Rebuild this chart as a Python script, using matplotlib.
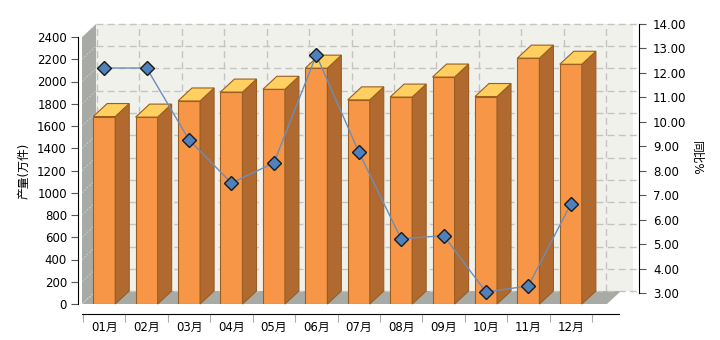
import matplotlib
matplotlib.use('Agg')
import matplotlib.pyplot as plt
from matplotlib.patches import Polygon

months = ['01月', '02月', '03月', '04月', '05月', '06月',
          '07月', '08月', '09月', '10月', '11月', '12月']
output = [1685, 1680, 1825, 1905, 1930, 2120, 1835, 1860, 2040, 1865, 2210, 2155]
yoy = [12.20, 12.20, 9.26, 7.50, 8.32, 12.73, 8.77, 5.21, 5.35, 3.04, 3.29, 6.64]

left_ticks = list(range(0, 2401, 200))
right_ticks = list(range(3, 15))

plt.rcParams['font.family'] = ['DejaVu Sans', 'Noto Sans CJK SC']

W, H = 720, 340
fig = plt.figure(figsize=(7.2, 3.4), dpi=100)
fig.patch.set_facecolor('white')


def box(x0, y0, x1, y1):
    # pixel box (top-left origin) -> figure fraction
    return [x0 / W, 1 - y1 / H, (x1 - x0) / W, (y1 - y0) / H]


ax = fig.add_axes(box(78, 37, 639, 304))
ax2 = fig.add_axes(box(78, 24, 639, 293))
ax.set_facecolor('none')
ax2.set_facecolor('none')

cat_px = 42.42
xmin, xmax = -0.5 - 5 / cat_px, -0.5 + 556 / cat_px
ax.set_xlim(xmin, xmax)
ax2.set_xlim(xmin, xmax)
ax.set_ylim(0, 2400)
ax2.set_ylim(3, 14)

# depth of the fake 3d effect, in data units
dx = 14 / cat_px
dy = 13 / (267 / 2400)

wall_l = -0.5 - 1 / cat_px
wall_r = -0.5 + 550 / cat_px
floor_r = -0.5 + 524 / cat_px

# back wall, side wall, floor
ax.add_patch(Polygon([(wall_l + dx, dy), (wall_r, dy), (wall_r, 2400 + dy), (wall_l + dx, 2400 + dy)],
                     closed=True, fc='#F0F1EB', ec='none', zorder=0, clip_on=False))
ax.add_patch(Polygon([(wall_l, 0), (wall_l, 2400), (wall_l + dx, 2400 + dy), (wall_l + dx, dy)],
                     closed=True, fc='#A8AAA5', ec='none', zorder=1, clip_on=False))
ax.add_patch(Polygon([(wall_l, 0), (floor_r, 0), (floor_r + dx, dy), (wall_l + dx, dy)],
                     closed=True, fc='#A8AAA5', ec='none', zorder=1, clip_on=False))

# grid on the back wall
for v in left_ticks:
    ax.plot([wall_l + dx, xmax], [v + dy, v + dy], color='#C4C4C4', lw=1,
            ls=(0, (5, 3)), zorder=1, clip_on=False)
    ax.plot([wall_l, wall_l + dx], [v, v + dy], color='white', lw=0.6,
            alpha=0.5, ls=(0, (2, 2)), zorder=2, clip_on=False)
for k in range(13):
    b = -0.5 + k + dx
    ax.plot([b, b], [dy, 2400 + dy], color='#C4C4C4', lw=1,
            ls=(0, (5, 3)), zorder=1, clip_on=False)

# bars
x = list(range(len(months)))
bw = 0.52
ax.bar(x, output, width=bw, color='#F79646', edgecolor='#9A5E22', lw=0.8, zorder=3)
for c, h in zip(x, output):
    r = c + bw / 2
    l = c - bw / 2
    ax.add_patch(Polygon([(r, 0), (r, h), (r + dx, h + dy), (r + dx, dy)], closed=True,
                         fc='#B06A30', ec='#9A5E22', lw=0.8, zorder=3, clip_on=False))
    ax.add_patch(Polygon([(l, h), (r, h), (r + dx, h + dy), (l + dx, h + dy)], closed=True,
                         fc='#FFD060', ec='#9A5E22', lw=0.8, zorder=3, clip_on=False))

# line on the right axis
ax2.plot(x, yoy, color='#6C8DBB', lw=1, marker='D', ms=7, mfc='#4F81BD',
         mec='#1A1A1A', mew=1, clip_on=False, zorder=5)

# left axis
for s in ['top', 'right']:
    ax.spines[s].set_visible(False)
ax.spines['left'].set_color('black')
ax.spines['bottom'].set_position(('outward', 7))
ax.spines['bottom'].set_bounds(wall_l, -0.5 + 536 / cat_px)
ax.set_yticks(left_ticks)
ax.set_yticklabels([str(v) for v in left_ticks])
ax.tick_params(axis='y', direction='out', length=5, color='#555555', labelsize=8.5, pad=3)
ax.set_xticks([-0.5 + k for k in range(13)])
ax.set_xticklabels([''] * 13)
ax.set_xticks(x, minor=True)
ax.set_xticklabels(months, minor=True)
ax.tick_params(axis='x', which='major', direction='out', length=6, color='#AAAAAA')
ax.tick_params(axis='x', which='minor', length=0, labelsize=8.5, pad=5)
ax.set_ylabel('产量(万件)', fontsize=8.5)
ax.yaxis.set_label_coords(-0.085, 0.5)

# right axis
for s in ['top', 'left', 'bottom']:
    ax2.spines[s].set_visible(False)
ax2.set_xticks([])
ax2.yaxis.tick_right()
ax2.set_yticks(right_ticks)
ax2.set_yticklabels(['%.2f' % v for v in right_ticks])
ax2.tick_params(axis='y', direction='out', length=5, color='#555555', labelsize=8.5, pad=5)
ax2.yaxis.set_label_position('right')
ax2.set_ylabel('同比%', fontsize=8.5, rotation=-90, va='center')
ax2.yaxis.set_label_coords((697 - 78) / 561, 0.5)

fig.savefig('out.png', dpi=100, facecolor='white')
